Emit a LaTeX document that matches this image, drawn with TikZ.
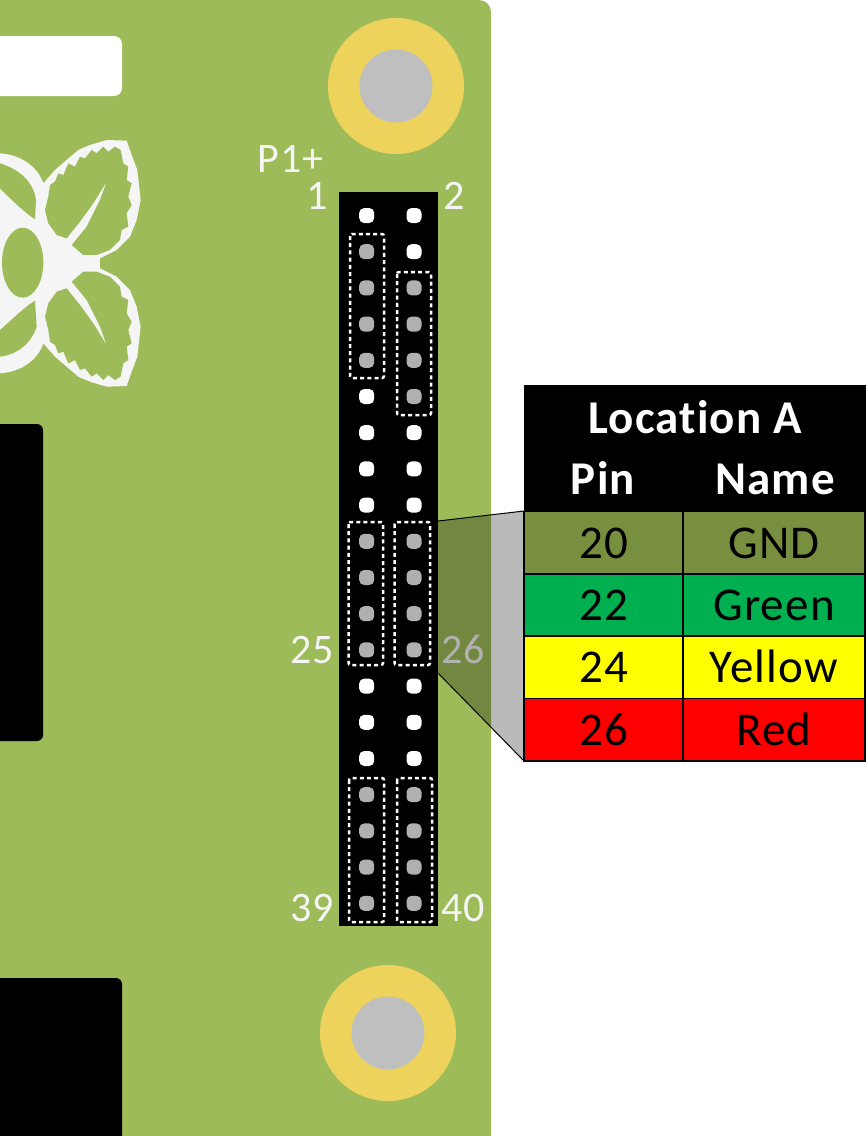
\documentclass[tikz,border=0pt]{standalone}
\usepackage{fontspec}
\setmainfont{Carlito}[LetterSpace=2.5,Ligatures=NoCommon]
\definecolor{boardgreen}{HTML}{9DBB59}
\definecolor{padyellow}{HTML}{EDD25B}
\definecolor{holegray}{HTML}{BFBFBF}
\definecolor{pingray}{HTML}{B0B0B0}
\definecolor{logowhite}{HTML}{F5F5F5}
\definecolor{gndgreen}{HTML}{778F3F}
\definecolor{cellgreen}{HTML}{00B050}
\definecolor{cellyellow}{HTML}{FFFF00}
\definecolor{cellred}{HTML}{FF0000}
\tikzset{
  pinhole/.style={rounded corners=5pt, rectangle, fill=white, inner sep=0pt, minimum size=15pt},
  blocked/.style={pinhole, fill=pingray},
  group/.style={draw=white, line width=2.5pt, dash pattern=on 4pt off 3.2pt, rounded corners=2pt},
  silk/.style={text=logowhite, inner sep=0pt, font=\fontsize{42}{46}\selectfont},
  headtext/.style={text=white, inner sep=0pt, anchor=base, font=\bfseries\fontsize{47}{50}\selectfont},
  tabcell/.style={draw=black, line width=1.5pt, inner sep=0pt, minimum height=62.4pt,
      text height=40pt, text depth=9pt, font=\fontsize{47}{50}\selectfont},
}
\newcommand{\leafouter}{(0,403) -- (0,70) .. controls (70,75) and (115,115) .. (130,160)
  -- (165,120) -- (200,90) -- (235,60) -- (270,45) -- (320,30) -- (380,32) -- (395,75) -- (412,120)
  -- (422,210) -- (410,270) -- (390,320) -- (350,360) -- (300,385) -- (300,403) -- cycle}
\newcommand{\leafinner}{(145,200) -- (150,165) -- (165,155) -- (175,130) -- (190,135) -- (205,100)
  -- (225,110) -- (240,80) -- (255,85) -- (275,60) -- (290,70) -- (310,50) -- (325,65) -- (345,50)
  -- (362,60) -- (370,100) -- (385,110) -- (380,150) -- (395,160) -- (385,200) -- (395,225)
  -- (380,250) -- (385,290) -- (365,300) -- (360,330) -- (330,360) -- (290,375) -- (250,375)
  -- (215,345) -- (260,290) -- (300,210) -- (320,155) -- (280,220) -- (240,275) -- (200,325)
  -- (170,315) -- (145,280) -- (135,240) -- cycle}
\begin{document}
\begin{tikzpicture}[x=1pt, y=-1pt]
  \useasboundingbox (0,0) rectangle (868,1136);
  % board
  \fill[boardgreen, rounded corners=12pt] (-30,0) rectangle (491,1170);
  \fill[white, rounded corners=8pt] (-30,36) rectangle (122,96);
  \fill[black, rounded corners=6pt] (-30,424) rectangle (43,741);
  \fill[black, rounded corners=6pt] (-30,978) rectangle (122,1170);
  \foreach \x/\y/\m in {396/86/top, 388/1033/bot} {
    \node[circle, fill=padyellow, inner sep=0pt, minimum size=136pt] (pad\m) at (\x,\y) {};
    \node[circle, fill=holegray, inner sep=0pt, minimum size=73pt] (hole\m) at (\x,\y) {};
  }
  % logo
  \foreach \o/\s in {130/-0.3333, 396.67/0.3333} {
    \begin{scope}[shift={(0,\o)}, x=0.3333pt, y=\s pt]
      \fill[logowhite] \leafouter;
    \end{scope}
  }
  \foreach \o/\s in {130/-0.3333, 396.67/0.3333} {
    \begin{scope}[shift={(0,\o)}, x=0.3333pt, y=\s pt]
      \fill[boardgreen] \leafinner;
    \end{scope}
  }
  \begin{scope}[shift={(0,130)}, x=0.3333pt, y=-0.3333pt]
    \fill[boardgreen] (0,100) .. controls (50,115) and (100,150) .. (108,210) -- (105,268)
      .. controls (70,245) and (30,205) .. (0,175) -- cycle;
    \fill[boardgreen] (0,600) .. controls (40,565) and (75,530) .. (105,512) -- (110,590)
      .. controls (95,640) and (50,675) .. (0,680) -- cycle;
    \fill[boardgreen] (68,398) ellipse (62 and 105);
  \end{scope}
  % header
  \fill[black] (339,192) rectangle (438,926);
  \foreach \x/\c/\rows in {366.7/l/{0,5,6,7,8,13,14,15}, 414/r/{0,1,6,7,8,13,14,15}}
    \foreach \r in \rows
      \node[pinhole] (\c\r) at (\x,215.5+36.2*\r) {};
  \foreach \x/\c/\rows in {366.7/l/{1,2,3,4,9,10,11,12,16,17,18,19}, 414/r/{2,3,4,5,9,10,11,12,16,17,18,19}}
    \foreach \r in \rows
      \node[blocked] (\c\r) at (\x,215.5+36.2*\r) {};
  \foreach \a/\b/\c/\d in {350/234/384/378, 397/272/431/415, 348.5/522/383/665, 394.5/522/430/665, 349/778/384/922, 397/778/432/922}
    \draw[group] (\a,\b) rectangle (\c,\d);
  % labels
  \node[silk, anchor=base east] (lblp) at (324,172) {P1+};
  \node[silk, anchor=base east] (lbl1) at (328,209) {1};
  \node[silk, anchor=base west] (lbl2) at (443,209) {2};
  \node[silk, anchor=base east] (lbl25) at (334,663) {25};
  \node[silk, anchor=base west] (lbl26) at (441,663) {26};
  \node[silk, anchor=base east] (lbl39) at (334,921) {39};
  \node[silk, anchor=base west] (lbl40) at (441,921) {40};
  % zoom beam
  \coordinate (beamtl) at (438,521);
  \coordinate (beambl) at (438,673);
  \coordinate (beamtr) at (524,511);
  \coordinate (beambr) at (524,761);
  \fill[black, opacity=0.27] (beamtl) -- (beamtr) -- (beambr) -- (beambl) -- cycle;
  \draw[line width=1pt] (beamtl) -- (beamtr);
  \draw[line width=1pt] (beambl) -- (beambr);
  % table
  \node[fill=black, inner sep=0pt, minimum width=342pt, minimum height=127pt] (tabhead) at (695,448) {};
  \node[headtext] (tabtitle) at (695,433) {Location A};
  \node[headtext] (tabpin) at (603,494) {Pin};
  \node[headtext] (tabname) at (775,494) {Name};
  \foreach \y/\p/\n/\c in {542.6/20/GND/gndgreen, 605/22/Green/cellgreen, 667.4/24/Yellow/cellyellow, 729.8/26/Red/cellred} {
    \node[tabcell, fill=\c, minimum width=159pt] (pin\p) at (603.5,\y) {\p};
    \node[tabcell, fill=\c, minimum width=182pt] (name\p) at (774,\y) {\n};
  }
\end{tikzpicture}
\end{document}
